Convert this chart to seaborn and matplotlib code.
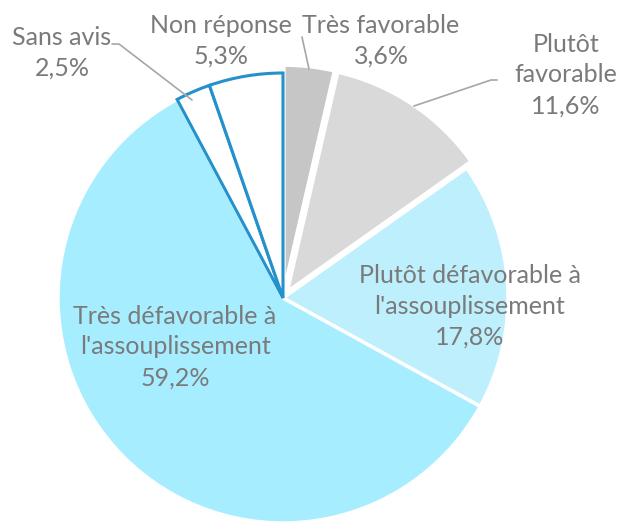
import matplotlib
matplotlib.use("Agg")
import matplotlib.pyplot as plt
import seaborn as sns

categories = ["Très favorable", "Plutôt favorable", "Plutôt défavorable à l'assouplissement",
              "Très défavorable à l'assouplissement", "Sans avis", "Non réponse"]
values = [3.6, 11.6, 17.8, 59.2, 2.5, 5.3]
label_texts = ["Très favorable\n3,6%", "Plutôt\nfavorable\n11,6%",
               "Plutôt défavorable à\nl'assouplissement\n17,8%",
               "Très défavorable à\nl'assouplissement\n59,2%",
               "Sans avis\n2,5%", "Non réponse\n5,3%"]

colors = ["#C6C6C6", "#D9D9D9", "#BDEFFC", "#A6EEFF", "#FFFFFF", "#FFFFFF"]
edge_colors = ["white", "white", "white", "white", "#2391CB", "#2391CB"]
edge_widths = [2.5, 2.5, 2.5, 2.5, 2.2, 2.2]
explode = [0.035, 0.035, 0.0, 0.0, 0.0, 0.0]

sns.set_theme(style="white")
plt.rcParams["font.family"] = ["Lato", "DejaVu Sans"]

W, H = 617, 522
fig = plt.figure(figsize=(W / 100, H / 100), dpi=100)
ax = fig.add_axes([0, 0, 1, 1])
cx, cy, S = 283, 298, 225

def P(px, py):
    return (px - cx) / S, (cy - py) / S

wedges, _ = ax.pie(values, colors=colors, startangle=90, counterclock=False,
                   explode=explode, radius=1.0)
for w, ec, lw in zip(wedges, edge_colors, edge_widths):
    w.set_edgecolor(ec)
    w.set_linewidth(lw)
for w, ec in zip(wedges, edge_colors):
    if ec != "white":
        w.set_zorder(3)

ax.set_xlim(-cx / S, (W - cx) / S)
ax.set_ylim(-(H - cy) / S, cy / S)
ax.set_aspect("equal")
ax.axis("off")

txt_color = "#7A7A7A"
label_pos = [(381, 41), (566, 75), (470, 306), (175, 347), (62, 53), (221, 41)]
for t, (px, py) in zip(label_texts, label_pos):
    x, y = P(px, py)
    ax.text(x, y, t, ha="center", va="center", fontsize=18, color=txt_color,
            linespacing=1.42, zorder=5)

line_color = "#A6A6A6"
leaders = [
    [(302, 37), (309, 69)],
    [(497, 80), (491, 80), (414, 106)],
    [(112, 44), (119, 44), (192, 100)],
]
for pts in leaders:
    xs, ys = zip(*[P(*p) for p in pts])
    ax.plot(xs, ys, color=line_color, lw=1.2, zorder=4)

fig.savefig("out.png", dpi=100)
